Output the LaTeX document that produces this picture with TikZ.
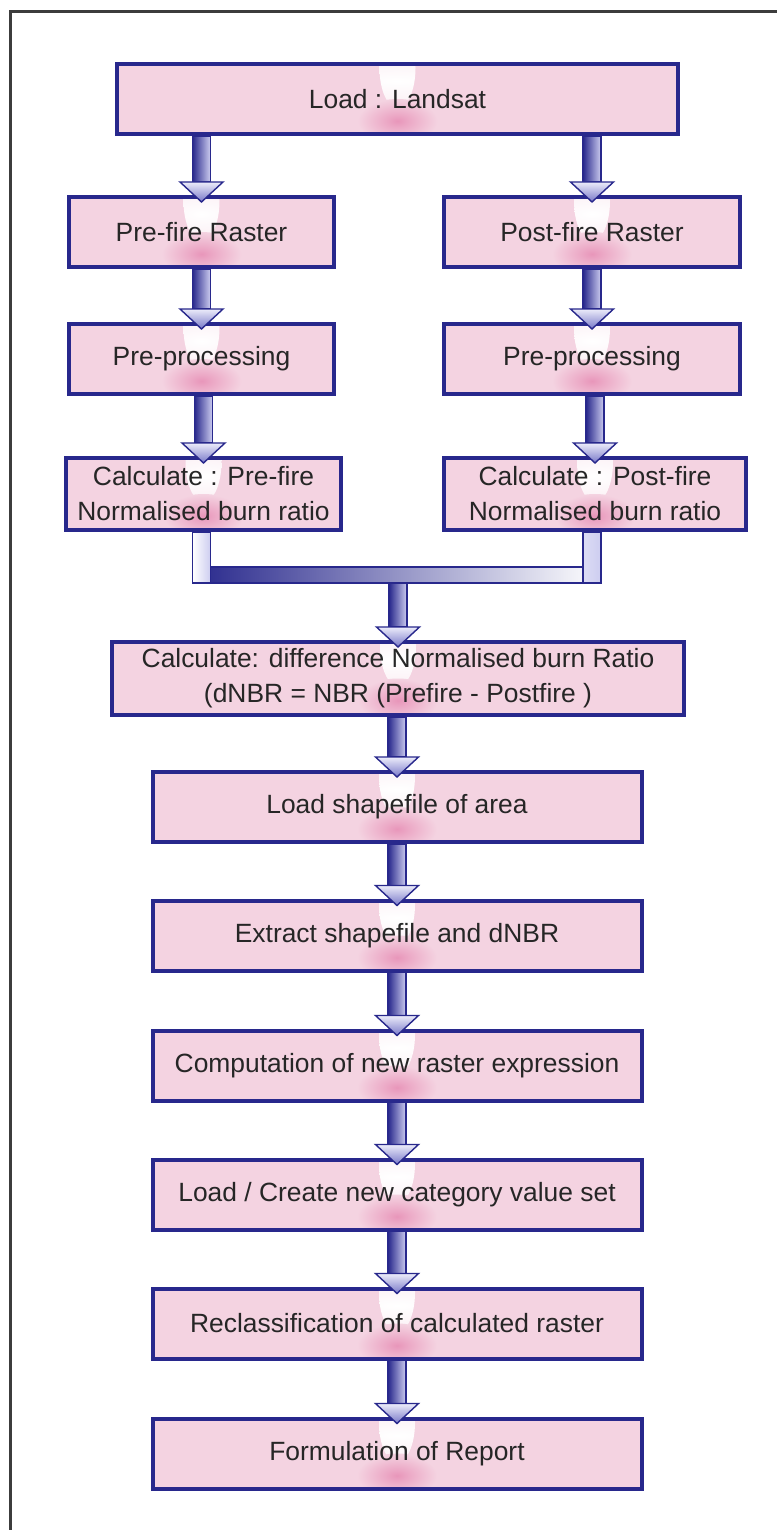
\documentclass[tikz,border=0pt]{standalone}
\usepackage{fontspec}
\setmainfont{Liberation Sans}
\usetikzlibrary{calc}

\definecolor{navy}{RGB}{40,40,140}
\definecolor{boxpink}{RGB}{244,211,225}
\definecolor{deeppink}{RGB}{232,150,186}
\definecolor{glow}{RGB}{255,255,255}
\definecolor{lav}{RGB}{205,205,240}
\definecolor{headtop}{RGB}{236,236,250}
\definecolor{headbot}{RGB}{120,120,200}
\definecolor{inktext}{RGB}{38,38,38}
\definecolor{framegray}{RGB}{60,60,60}

% radial glows; a shaded path spans the inner 25bp radius, so they reach the box colour at their rim
\pgfdeclareradialshading{pinkspot}{\pgfpointorigin}{color(0bp)=(deeppink); color(7bp)=(deeppink!70!boxpink); color(25bp)=(boxpink); color(50bp)=(boxpink)}
\pgfdeclareradialshading{whitespot}{\pgfpointorigin}{color(0bp)=(glow); color(8bp)=(glow!75!boxpink); color(25bp)=(boxpink); color(50bp)=(boxpink)}

\tikzset{
  stepbox/.style={draw=navy, line width=4pt, fill=boxpink,
    minimum height=70pt, inner sep=0pt, text=inktext, align=center,
    font=\fontsize{26.4}{35}\selectfont,
    path picture={
      \shade[shading=whitespot]
        ($(path picture bounding box.north)+(0,4)$) ellipse [x radius=18pt, y radius=40pt];
      \shade[shading=pinkspot]
        ($(path picture bounding box.center)+(0,22)$) ellipse [x radius=40pt, y radius=22pt];
    }},
  shaft/.style={left color=navy, right color=lav, draw=navy, line width=1.3pt},
  head/.style={top color=headtop, bottom color=headbot, draw=navy, line width=1.4pt, line join=miter},
}

% block arrow: shaft from the source point down to a triangular head on the target box
\newcommand{\flowarrow}[2]{%
  \path[shaft] ($(#1 -| #2.north)+(-9,0)$) rectangle ($(#2.north)+(9,-13)$);
  \path[head] ($(#2.north)+(-21.5,-13)$) -- ($(#2.north)+(21.5,-13)$) -- ($(#2.north)+(0,7)$) -- cycle;
}

\begin{document}
\begin{tikzpicture}[x=1pt, y=-1pt]
\useasboundingbox (0,0) rectangle (777,1530);

% outer frame
\coordinate (fbl) at (10,1530);
\coordinate (ftl) at (10,11.5);
\coordinate (ftr) at (777,11.5);
\draw[framegray, line width=3pt] (fbl) -- (ftl) -- (ftr);

% boxes
\node[stepbox, minimum width=561pt] (load) at (397.5,99) {Load : Landsat};
\node[stepbox, minimum width=265pt] (pre) at (201.5,232) {Pre-fire Raster};
\node[stepbox, minimum width=296pt] (post) at (592,232) {Post-fire Raster};
\node[stepbox, minimum width=265pt] (prepre) at (201.5,359) {Pre-processing};
\node[stepbox, minimum width=296pt] (prepost) at (592,359) {Pre-processing};
\node[stepbox, minimum width=275pt, minimum height=72pt] (calcpre) at (203.5,494)
  {Calculate : Pre-fire\\Normalised burn ratio};
\node[stepbox, minimum width=302pt, minimum height=72pt] (calcpost) at (595,494)
  {Calculate : Post-fire\\Normalised burn ratio};
\node[stepbox, minimum width=572pt, minimum height=73pt] (dnbr) at (398,678.5)
  {Calculate: difference Normalised burn Ratio\\(dNBR = NBR (Prefire - Postfire )};
\node[stepbox, minimum width=489pt] (shape) at (397,807) {Load shapefile of area};
\node[stepbox, minimum width=489pt] (extract) at (397,935.5) {Extract shapefile and dNBR};
\node[stepbox, minimum width=489pt] (comp) at (397,1065.5) {Computation of new raster expression};
\node[stepbox, minimum width=489pt] (create) at (397,1194.5) {Load / Create new category value set};
\node[stepbox, minimum width=489pt] (reclass) at (397,1323.5) {Reclassification of calculated raster};
\node[stepbox, minimum width=489pt] (report) at (397,1453.5) {Formulation of Report};

% arrows of the two branches
\flowarrow{load.south}{pre}
\flowarrow{load.south}{post}
\flowarrow{pre.south}{prepre}
\flowarrow{post.south}{prepost}
\flowarrow{prepre.south}{calcpre}
\flowarrow{prepost.south}{calcpost}

% joining bar under the two NBR boxes
\coordinate (barL) at ($(calcpre.south -| prepre.south)+(-9,35)$);
\coordinate (barR) at ($(calcpost.south -| prepost.south)+(9,51)$);
\coordinate (merge) at ($(calcpre.south)+(0,51)$);
\path[left color=navy, right color=white, draw=navy, line width=1.3pt] (barL) rectangle (barR);
\path[left color=white, right color=lav, draw=navy, line width=1.3pt]
  ($(calcpre.south -| prepre.south)+(-9,0)$) rectangle ($(calcpre.south -| prepre.south)+(9,51)$);
\path[left color=lav!70!white, right color=lav, draw=navy, line width=1.3pt]
  ($(calcpost.south -| prepost.south)+(-9,0)$) rectangle ($(calcpost.south -| prepost.south)+(9,51)$);
\flowarrow{merge}{dnbr}

% main chain
\flowarrow{dnbr.south}{shape}
\flowarrow{shape.south}{extract}
\flowarrow{extract.south}{comp}
\flowarrow{comp.south}{create}
\flowarrow{create.south}{reclass}
\flowarrow{reclass.south}{report}
\end{tikzpicture}
\end{document}
